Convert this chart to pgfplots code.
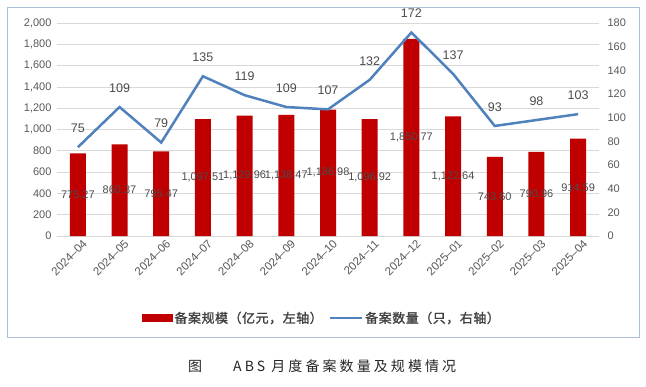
\documentclass[border=0pt]{standalone}
\usepackage{fontspec}
\setmainfont{Liberation Sans}
\newfontfamily\cjk{Noto Sans CJK SC}
\newfontfamily\cjkb[FakeBold=1.3,LetterSpace=4]{Noto Sans CJK SC}
\newfontfamily\cjkcap[LetterSpace=22]{Noto Sans CJK SC}
\usepackage{pgfplots}
\usepackage{pgfplotstable}
\pgfplotsset{compat=1.18}
\definecolor{barred}{RGB}{192,0,0}
\definecolor{lineblue}{RGB}{79,129,189}
\definecolor{gridgray}{RGB}{217,217,217}
\definecolor{txtgray}{RGB}{89,89,89}
\definecolor{framecol}{RGB}{170,190,215}

\pgfplotstableread{
x v n
0 775.27 75
1 860.37 109
2 795.47 79
3 1097.51 135
4 1129.96 119
5 1138.47 109
6 1186.98 107
7 1096.92 132
8 1850.77 172
9 1122.64 137
10 743.60 93
11 790.96 98
12 914.59 103
}\data

\begin{document}
\begin{tikzpicture}
\useasboundingbox[fill=white] (0pt,0pt) rectangle (646pt,-386pt);
\draw[framecol, line width=0.9pt] (7pt,-7pt) rectangle (639pt,-337pt);
\begin{axis}[
  at={(57pt,-236pt)}, anchor=south west,
  scale only axis, width=542pt, height=213pt,
  xmin=-0.5, xmax=12.5, ymin=0, ymax=2000,
  ytick={0,200,...,2000},
  xtick={0,...,12},
  xticklabels={2024--04,2024--05,2024--06,2024--07,2024--08,2024--09,2024--10,2024--11,2024--12,2025--01,2025--02,2025--03,2025--04},
  xticklabel style={rotate=45, anchor=north east, inner sep=1pt, xshift=2pt, yshift=-4pt, font=\fontsize{11.5}{13}\selectfont, color=txtgray},
  yticklabel style={font=\fontsize{11}{13}\selectfont, color=txtgray, xshift=-2pt},
  /pgf/number format/assume math mode=true,
  /pgf/number format/1000 sep={,},
  axis line style={draw=none},
  major tick length=0pt,
  ymajorgrids, grid style={gridgray, line width=0.8pt},
  clip=false,
  visualization depends on={rawy \as \rawy},
]
\addplot[ybar, bar width=16pt, fill=barred, draw=none,
  nodes near coords={\pgfmathprintnumber[fixed,fixed zerofill,precision=2,1000 sep={,},assume math mode=true]{\pgfplotspointmeta}},
  every node near coord/.append style={anchor=center, font=\fontsize{11}{13}\selectfont, color=black!70, yshift={-0.05325*\rawy}}
] table[x=x,y=v]{\data};
\end{axis}
\begin{axis}[
  at={(57pt,-236pt)}, anchor=south west,
  scale only axis, width=542pt, height=213pt,
  xmin=-0.5, xmax=12.5, ymin=0, ymax=180,
  ytick={0,20,...,180},
  axis y line*=right, axis x line=none,
  axis line style={draw=none},
  yticklabel style={font=\fontsize{11}{13}\selectfont, color=txtgray, xshift=5pt},
  /pgf/number format/assume math mode=true,
  major tick length=0pt,
  clip=false,
  legend style={at={(0.5,-0.385)}, anchor=center, xshift=-6pt, draw=none, fill=none,
    font=\cjkb\fontsize{13}{15}\selectfont, text=black!75, legend columns=2,
    inner xsep=0pt,
    /tikz/every even column/.append style={column sep=4pt},
    nodes={inner xsep=2pt}},
]
\addlegendimage{legend image code/.code={\fill[barred] (0pt,-3.5pt) rectangle (30pt,3.5pt);}}
\addlegendentry{备案规模（亿元，左轴）}
\addplot[lineblue, line width=2.5pt, no marks,
  legend image code/.code={\draw[lineblue, line width=2.5pt] (0pt,0pt) -- (32pt,0pt);},
  nodes near coords,
  every node near coord/.append style={anchor=south, yshift=10pt, font=\fontsize{12.5}{14}\selectfont, color=black!70}
] table[x=x,y=n]{\data};
\addlegendentry{备案数量（只，右轴）}
\end{axis}
\node[font=\cjk\fontsize{14}{16}\selectfont, color=black!85, anchor=west, inner sep=0pt] at (188pt,-366pt) {图};
\node[font=\cjkcap\fontsize{14}{16}\selectfont, color=black!85, anchor=west, inner sep=0pt] at (233pt,-366pt) {ABS 月度备案数量及规模情况};
\end{tikzpicture}
\end{document}
